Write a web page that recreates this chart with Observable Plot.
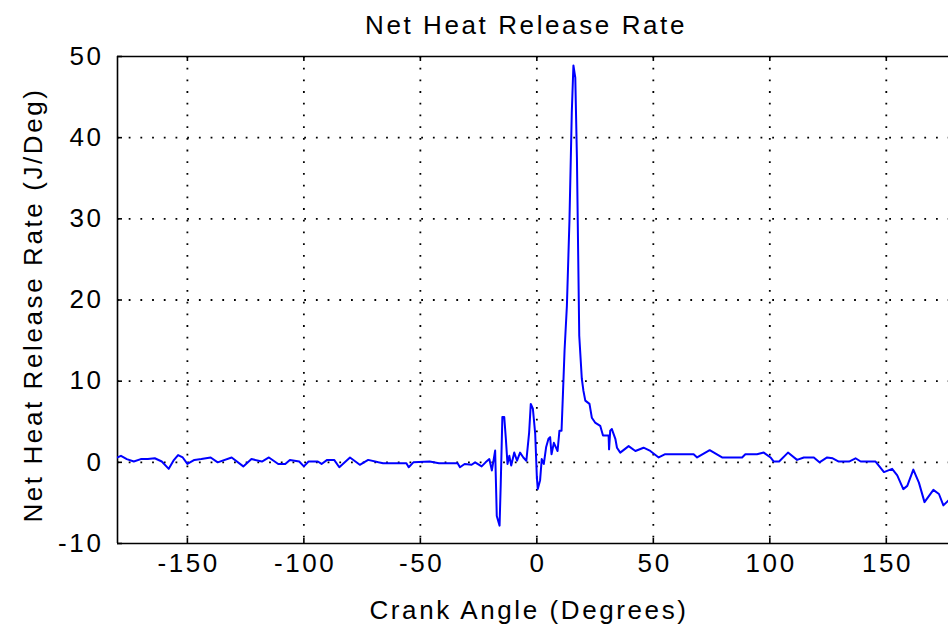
<!DOCTYPE html>
<html>
<head>
<meta charset="utf-8">
<script src="https://cdn.jsdelivr.net/npm/d3@7"></script>
<script src="https://cdn.jsdelivr.net/npm/@observablehq/plot@0.6"></script>
<style>
  html, body { margin: 0; padding: 0; background: #fff; }
  #chart { width: 948px; height: 633px; overflow: hidden; }
</style>
</head>
<body>
<div id="chart"></div>
<script>
const titleText = "Net Heat Release Rate";
const xLabel = "Crank Angle (Degrees)";
const yLabel = "Net Heat Release Rate (J/Deg)";
const xTicks = [-150, -100, -50, 0, 50, 100, 150];
const yTicks = [-10, 0, 10, 20, 30, 40, 50];

const angle = [
  -180, -178.5, -176, -173, -170, -167, -164, -161, -158, -156, -154, -152, -150,
  -147, -144, -140, -137, -131, -126, -122.5, -118, -115, -111, -108, -106, -102,
  -100, -98, -94, -92.4, -90, -87, -84.8, -80.2, -76, -72.4, -68, -66, -56, -55,
  -53, -46, -42, -34, -33, -31, -28, -26.5, -23.7, -22, -20.4, -19.3, -17.9, -17.2,
  -16, -15.5, -14.8, -14, -13.3, -12.6, -11.8, -11, -9.7, -8.5, -7.2, -5.8, -4.5,
  -3.3, -2.6, -1.7, -0.7, 0, 0.4, 1.4, 2.1, 3, 4, 5, 5.7, 6.3, 7.3, 8.9, 9.7, 10.6,
  11.2, 11.9, 12.9, 14, 15, 15.7, 16.5, 17.2, 18.2, 19.3, 20, 20.8, 22.6, 23.6, 25,
  27.2, 28.4, 30.8, 31, 31.5, 32.2, 33.7, 34.4, 35.8, 39.4, 42.3, 45.8, 48.7, 52.3,
  55.1, 67.3, 68.8, 74.2, 79.5, 88.1, 89.5, 94.5, 97.4, 100.3, 101.7, 104, 107.8,
  111.7, 114.6, 118.9, 121.3, 124.6, 127, 129.6, 134, 136.8, 139, 145.4, 149, 152.5,
  154.7, 157.3, 159, 161.6, 164, 166.4, 170.2, 172.6, 174.5, 176.7, 180
];
const hrr = [
  0.6, 0.8, 0.4, 0.1, 0.4, 0.4, 0.5, 0.1, -0.8, 0.2, 0.9, 0.6, -0.2,
  0.3, 0.4, 0.6, 0.0, 0.6, -0.5, 0.4, 0.1, 0.6, -0.2, -0.2, 0.3, 0.1,
  -0.5, 0.1, 0.1, -0.2, 0.3, 0.3, -0.6, 0.6, -0.3, 0.3, 0.0, -0.1, -0.1, -0.6,
  0.0, 0.1, -0.1, -0.1, -0.6, -0.2, -0.3, 0.0, -0.5, 0.0, 0.4, -1.0, 1.45, -6.6,
  -7.8, -2.7, 5.6, 5.6, 2.9, -0.2, 0.8, -0.4, 1.2, 0.2, 1.2, 0.6, 0.2,
  3.7, 7.2, 6.6, 3.5, -1.8, -3.3, -2.2, 0.4, -0.2, 1.9, 2.9, 3.1, 1.0, 2.4, 1.4, 3.9, 3.9,
  8.4, 13.8, 19.3, 29.8, 43.1, 48.9, 47.4, 37.6, 15.6, 10.3, 8.8, 7.6, 7.2, 5.5, 4.9,
  4.5, 3.3, 3.3, 1.6, 3.9, 4.1, 2.9, 1.8, 1.2, 2.0, 1.4, 1.8, 1.4, 0.6,
  1.0, 1.0, 0.6, 1.5, 0.6, 0.6, 1.0, 1.0, 1.2, 0.6, 0.1, 0.1, 1.2,
  0.3, 0.6, 0.6, 0.0, 0.6, 0.5, 0.1, 0.1, 0.5, 0.1, 0.1, -1.2, -0.8,
  -1.6, -3.3, -2.9, -0.9, -2.5, -4.9, -3.4, -3.9, -5.3, -4.7, -5.0
];

const data = angle.map((a, i) => ({angle: a, hrr: hrr[i]}));

const fontStyle = {
  fontFamily: "'Liberation Sans', Arial, Helvetica, sans-serif",
  fontSize: "26px",
  letterSpacing: "2.6px",
  color: "#000",
  background: "#fff"
};

const xTickLen = 5 / 8.117;   // ~5px in y units
const yTickLen = 5 / 2.327;   // ~5px in x units
const gridStyle = {stroke: "#000", strokeOpacity: 1, strokeWidth: 1.8, strokeDasharray: "1.8,9.9"};

const chart = Plot.plot({
  width: 948,
  height: 633,
  marginTop: 56,
  marginBottom: 90,
  marginLeft: 117,
  marginRight: 0,
  style: fontStyle,
  x: {domain: [-180, 176.7], ticks: xTicks},
  y: {domain: [-10, 50], ticks: yTicks},
  marks: [
    Plot.gridX(xTicks, gridStyle),
    Plot.gridY(yTicks.filter(d => d > -10 && d < 50), gridStyle),
    Plot.axisX({ticks: xTicks, tickSize: 0, tickPadding: 10, tickFormat: d => String(d), label: null, fontSize: 26, dx: 1.3}),
    Plot.axisY({ticks: yTicks, tickSize: 0, tickPadding: 14, tickFormat: d => String(d), label: null, fontSize: 26}),
    // inward tick marks
    Plot.ruleX(xTicks, {y1: -10, y2: -10 + xTickLen, stroke: "#000", strokeWidth: 1.6}),
    Plot.ruleX(xTicks, {y1: 50, y2: 50 - xTickLen, stroke: "#000", strokeWidth: 1.6}),
    Plot.ruleY(yTicks, {x1: -180, x2: -180 + yTickLen, stroke: "#000", strokeWidth: 1.6}),
    // frame (left, top, bottom)
    Plot.ruleY([-10, 50], {stroke: "#000", strokeWidth: 1.6}),
    Plot.ruleX([-180], {stroke: "#000", strokeWidth: 1.6}),
    Plot.line(data, {x: "angle", y: "hrr", stroke: "#0000ff", strokeWidth: 2, clip: true}),
    Plot.text([titleText], {frameAnchor: "top", lineAnchor: "middle", textAnchor: "middle", dy: -31, dx: -7, fontSize: 26, fill: "#000"}),
    Plot.text([xLabel], {frameAnchor: "bottom", lineAnchor: "middle", textAnchor: "middle", dy: 67, dx: -4, fontSize: 26, fill: "#000"}),
    Plot.text([yLabel], {frameAnchor: "left", lineAnchor: "middle", textAnchor: "middle", dx: -84, dy: 5, rotate: -90, fontSize: 26, fill: "#000"})
  ]
});
document.getElementById("chart").append(chart);
</script>
</body>
</html>
